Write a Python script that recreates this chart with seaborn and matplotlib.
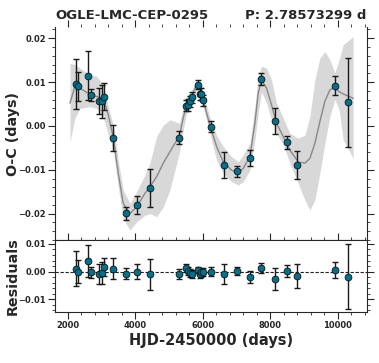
import matplotlib
matplotlib.use("Agg")
import matplotlib.pyplot as plt
from matplotlib import font_manager
from matplotlib.ticker import AutoMinorLocator, MultipleLocator
import pandas as pd
import seaborn as sns

STAR = "OGLE-LMC-CEP-0295"
PERIOD = "P: 2.78573299 d"

# observed O-C timings
hjd = [2228, 2305, 2583, 2672, 2928, 3007, 3076, 3343, 3709, 4054, 4440,
       5280, 5487, 5546, 5615, 5674, 5842, 5911, 5951, 6010, 6237, 6613,
       7017, 7383, 7727, 8133, 8479, 8785, 9920, 10287]
oc = [0.0095, 0.0090, 0.0115, 0.0071, 0.0057, 0.0056, 0.0067, -0.0027,
      -0.0199, -0.0181, -0.0141, -0.0027, 0.0046, 0.0048, 0.0056, 0.0065,
      0.0094, 0.0073, 0.0073, 0.0058, -0.0002, -0.0089, -0.0104, -0.0073,
      0.0107, 0.0011, -0.0037, -0.0090, 0.0092, 0.0054]
oc_err = [0.0057, 0.0033, 0.0057, 0.0014, 0.0030, 0.0038, 0.0030, 0.0030,
          0.0015, 0.0020, 0.0043, 0.0015, 0.0013, 0.0013, 0.0013, 0.0013,
          0.0010, 0.0013, 0.0013, 0.0013, 0.0013, 0.0030, 0.0013, 0.0018,
          0.0013, 0.0030, 0.0015, 0.0032, 0.0022, 0.0102]

# residuals after subtracting the model
res = [0.0011, 0.0000, 0.0039, -0.0002, -0.0008, -0.0005, 0.0016, 0.0011,
       -0.0007, 0.0000, -0.0010, -0.0010, 0.0014, 0.0001, -0.0004, -0.0009,
       0.0006, -0.0010, -0.0003, -0.0002, 0.0000, -0.0009, 0.0002, -0.0019,
       0.0013, -0.0027, 0.0002, -0.0016, 0.0006, -0.0019]
res_err = [0.0064, 0.0041, 0.0058, 0.0020, 0.0036, 0.0040, 0.0033, 0.0038,
           0.0020, 0.0027, 0.0057, 0.0018, 0.0015, 0.0015, 0.0015, 0.0015,
           0.0012, 0.0015, 0.0015, 0.0015, 0.0015, 0.0035, 0.0016, 0.0022,
           0.0018, 0.0040, 0.0021, 0.0042, 0.0030, 0.0118]

# model curve and its uncertainty band
model_hjd = [2060, 2207, 2356, 2652, 2850, 3047, 3195, 3343, 3491, 3639,
             3837, 4035, 4281, 4430, 4627, 4825, 5022, 5170, 5299, 5417,
             5516, 5665, 5813, 5911, 6030, 6207, 6405, 6602, 6849, 7046,
             7195, 7393, 7541, 7639, 7738, 7886, 8034, 8183, 8380, 8578,
             8824, 9022, 9170, 9319, 9467, 9615, 9763, 9911, 10039, 10158,
             10454]
model_oc = [0.0052, 0.0090, 0.0086, 0.0072, 0.0067, 0.0063, 0.0025, -0.0026,
            -0.0108, -0.0177, -0.0200, -0.0185, -0.0154, -0.0139, -0.0116,
            -0.0085, -0.0059, -0.0040, -0.0024, 0.0018, 0.0048, 0.0067,
            0.0095, 0.0086, 0.0052, 0.0002, -0.0047, -0.0082, -0.0101,
            -0.0107, -0.0097, -0.0070, 0.0006, 0.0075, 0.0105, 0.0086,
            0.0048, 0.0006, -0.0024, -0.0055, -0.0082, -0.0085, -0.0074,
            -0.0040, 0.0010, 0.0056, 0.0082, 0.0089, 0.0078, 0.0073, 0.0063]
model_lo = [-0.0036, 0.0018, 0.0040, 0.0044, 0.0040, 0.0021, -0.0020, -0.0055,
            -0.0139, -0.0211, -0.0238, -0.0219, -0.0204, -0.0200, -0.0207,
            -0.0185, -0.0146, -0.0101, -0.0062, -0.0009, 0.0029, 0.0052,
            0.0082, 0.0071, 0.0037, -0.0017, -0.0078, -0.0108, -0.0127,
            -0.0135, -0.0127, -0.0101, -0.0032, 0.0029, 0.0078, 0.0052,
            0.0014, -0.0017, -0.0043, -0.0085, -0.0131, -0.0169, -0.0192,
            -0.0169, -0.0108, -0.0040, 0.0021, 0.0060, 0.0037, -0.0032, -0.0074]
model_hi = [0.0143, 0.0140, 0.0132, 0.0117, 0.0113, 0.0094, 0.0044, 0.0002,
            -0.0078, -0.0146, -0.0177, -0.0150, -0.0112, -0.0085, -0.0024,
            0.0002, 0.0014, 0.0010, 0.0006, 0.0040, 0.0067, 0.0082,
            0.0103, 0.0098, 0.0067, 0.0021, -0.0021, -0.0047, -0.0070,
            -0.0082, -0.0066, -0.0040, 0.0044, 0.0113, 0.0136, 0.0132,
            0.0105, 0.0052, 0.0018, -0.0017, -0.0028, -0.0021, 0.0021,
            0.0105, 0.0155, 0.0170, 0.0151, 0.0121, 0.0151, 0.0185, 0.0204]

POINT_COLOR = "#00718c"

installed = {f.name for f in font_manager.fontManager.ttflist}
if "Liberation Sans Narrow" in installed:
    TICK_FONT, TICK_SIZE = "Liberation Sans Narrow", 9
else:
    TICK_FONT, TICK_SIZE = "DejaVu Sans", 6.0


def style_axis(ax, top=True, bottom=True):
    ax.xaxis.set_minor_locator(AutoMinorLocator(5))
    ax.yaxis.set_minor_locator(AutoMinorLocator(5))
    ax.tick_params(which="both", direction="out", left=True, right=True,
                   top=top, bottom=bottom)
    ax.tick_params(which="major", length=5, width=0.8, pad=1.5)
    ax.tick_params(which="minor", length=2.5, width=0.6)
    for lab in ax.get_xticklabels() + ax.get_yticklabels():
        lab.set_fontfamily(TICK_FONT)
        lab.set_fontsize(TICK_SIZE)
        lab.set_fontweight("bold")


def fmt(v, pos):
    return f"{v:.2f}".replace("-", "\u2212")


def main():
    sns.set_theme(style="ticks")
    plt.rcParams["font.family"] = ["DejaVu Sans"]
    plt.rcParams["font.weight"] = "bold"

    obs = pd.DataFrame({"hjd": hjd, "oc": oc, "oc_err": oc_err,
                        "res": res, "res_err": res_err})
    model = pd.DataFrame({"hjd": model_hjd, "oc": model_oc,
                          "lo": model_lo, "hi": model_hi})

    fig = plt.figure(figsize=(3.79, 3.63), dpi=100)
    ax = fig.add_axes([0.145, 0.338, 0.823, 0.588])
    axr = fig.add_axes([0.145, 0.141, 0.823, 0.197], sharex=ax)

    ax.fill_between(model["hjd"], model["lo"], model["hi"],
                    color="#d8d8d8", linewidth=0, zorder=1)
    sns.lineplot(data=model, x="hjd", y="oc", ax=ax, color="#888888",
                 linewidth=1.0, zorder=2)
    ax.errorbar(obs["hjd"], obs["oc"], yerr=obs["oc_err"], fmt="none",
                ecolor="#1a1a1a", elinewidth=1.0, capsize=2.5, capthick=1.0,
                zorder=3)
    sns.scatterplot(data=obs, x="hjd", y="oc", ax=ax, color=POINT_COLOR,
                    edgecolor="#111111", linewidth=0.6, s=24, zorder=4)

    axr.axhline(0, color="#222222", linestyle=(0, (3, 1.5)), linewidth=0.8,
                zorder=1)
    axr.errorbar(obs["hjd"], obs["res"], yerr=obs["res_err"], fmt="none",
                 ecolor="#1a1a1a", elinewidth=1.0, capsize=2.5, capthick=1.0,
                 zorder=3)
    sns.scatterplot(data=obs, x="hjd", y="res", ax=axr, color=POINT_COLOR,
                    edgecolor="#111111", linewidth=0.6, s=24, zorder=4)

    ax.set_xlim(1615, 10860)
    ax.set_ylim(-0.0261, 0.0226)
    axr.set_ylim(-0.01455, 0.0113)
    ax.yaxis.set_major_locator(MultipleLocator(0.01))
    axr.yaxis.set_major_locator(MultipleLocator(0.01))
    ax.xaxis.set_major_locator(MultipleLocator(2000))
    ax.yaxis.set_major_formatter(plt.FuncFormatter(fmt))
    axr.yaxis.set_major_formatter(plt.FuncFormatter(fmt))

    style_axis(ax, top=True, bottom=False)
    style_axis(axr, top=True, bottom=True)
    ax.tick_params(labelbottom=False)
    ax.spines["top"].set_visible(False)
    for a in (ax, axr):
        for sp in a.spines.values():
            sp.set_linewidth(0.8)

    ax.set_xlabel("")
    ax.set_ylabel("O-C (days)", fontsize=10.3, fontweight="bold")
    axr.set_ylabel("Residuals", fontsize=10.3, fontweight="bold")
    axr.set_xlabel("HJD-2450000 (days)", fontsize=10.5, fontweight="bold",
                   labelpad=2)
    ax.yaxis.set_label_coords(-0.112, 0.5)
    axr.yaxis.set_label_coords(-0.112, 0.5)

    ax.set_title(STAR, loc="left", fontsize=9.5, fontweight="bold", pad=6)
    ax.set_title(PERIOD, loc="right", fontsize=9.5, fontweight="bold", pad=6)

    fig.savefig("out.png", dpi=100)
    plt.close(fig)


if __name__ == "__main__":
    main()
